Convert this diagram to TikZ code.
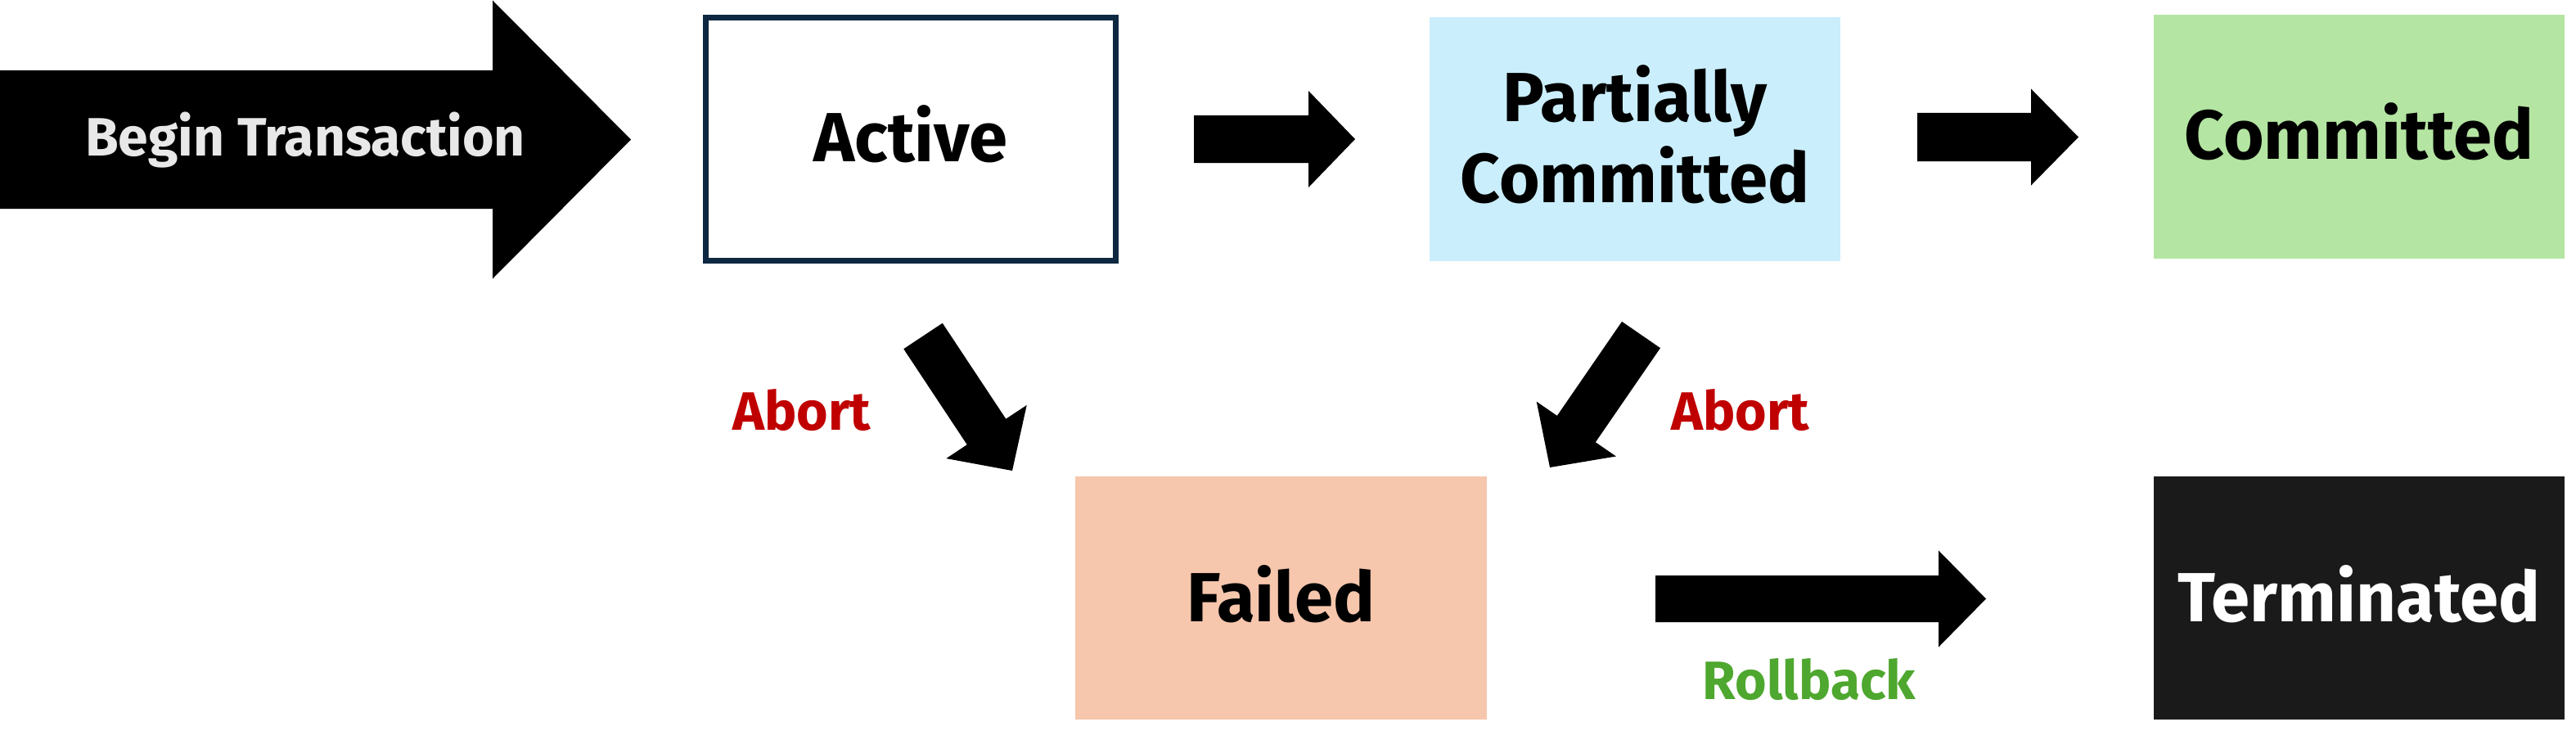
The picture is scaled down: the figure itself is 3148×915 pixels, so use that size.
\documentclass[tikz,border=0pt]{standalone}
\usepackage{fontspec}
\setmainfont{Fira Sans}
\usetikzlibrary{calc}
\definecolor{navyline}{HTML}{0E2841}
\definecolor{pcblue}{HTML}{CAEEFB}
\definecolor{cmgreen}{HTML}{B4E5A2}
\definecolor{flpeach}{HTML}{F6C6AD}
\definecolor{trdark}{HTML}{1A1A1A}
\definecolor{abortred}{HTML}{C00000}
\definecolor{rbgreen}{HTML}{4EA72E}
\definecolor{btgray}{HTML}{E8E8E8}
\newcommand\blockarrow[5]{%
  \coordinate (ba-h) at ($(#2)!#5!(#1)$);
  \fill[black] ($(#1)!#3!90:(#2)$) -- ($(ba-h)!#3!-90:(#1)$) -- ($(ba-h)!#4!-90:(#1)$) -- (#2)
     -- ($(ba-h)!#4!90:(#1)$) -- ($(ba-h)!#3!90:(#1)$) -- ($(#1)!#3!-90:(#2)$) -- cycle;
}
\begin{document}
\begin{tikzpicture}[x=1pt,y=-1pt,
  statebox/.style={rectangle, inner sep=0pt, align=center, text depth=13pt, font=\bfseries\fontsize{85}{99}\selectfont},
  lbl/.style={inner sep=0pt, font=\bfseries\fontsize{66}{78}\selectfont}]
\useasboundingbox (0,0) rectangle (3148,915);
\fill[white] (0,0) rectangle (3148,915);
% nodes
\node[statebox, draw=navyline, line width=7pt, fill=white, minimum width=501pt, minimum height=297pt] (active) at (1113,170) {Active};
\node[statebox, fill=pcblue, minimum width=502pt, minimum height=298pt] (partial) at (1998,170) {Partially\\Committed};
\node[statebox, fill=cmgreen, minimum width=502pt, minimum height=298pt] (committed) at (2883,167) {Committed};
\node[statebox, fill=flpeach, minimum width=503pt, minimum height=297pt, text depth=11pt] (failed) at (1565.5,730.5) {Failed};
\node[statebox, fill=trdark, text=white, minimum width=502pt, minimum height=297pt, text depth=10pt] (terminated) at (2883,730.5) {Terminated};
% arrow end points
\coordinate (bt-tail) at (0,170.5);
\coordinate (bt-tip) at (771,170.5);
\coordinate (ap-tail) at (1459,170);
\coordinate (ap-tip) at (1656,170);
\coordinate (pc-tail) at (2343,167.5);
\coordinate (pc-tip) at (2540,167.5);
\coordinate (ft-tail) at (2023,731.5);
\coordinate (ft-tip) at (2427,731.5);
\coordinate (af-tail) at (1128,410.5);
\coordinate (af-tip) at (1237,575);
\coordinate (pf-tail) at (2005.5,409);
\coordinate (pf-tip) at (1894,571);
\blockarrow{bt-tail}{bt-tip}{84.5pt}{170pt}{169pt}
\blockarrow{ap-tail}{ap-tip}{29pt}{59pt}{57pt}
\blockarrow{pc-tail}{pc-tip}{29.5pt}{59pt}{58pt}
\blockarrow{ft-tail}{ft-tip}{28.5pt}{59pt}{58pt}
\blockarrow{af-tail}{af-tip}{28.5pt}{59pt}{57pt}
\blockarrow{pf-tail}{pf-tip}{28.5pt}{59pt}{57pt}
% labels
\node[lbl, text=btgray, anchor=base] (btlabel) at (373,190) {Begin Transaction};
\node[lbl, text=abortred, anchor=base] (abort1) at (980,525) {Abort};
\node[lbl, text=abortred, anchor=base] (abort2) at (2127,525) {Abort};
\node[lbl, text=rbgreen, anchor=base] (rollback) at (2211,854) {Rollback};
\end{tikzpicture}
\end{document}
